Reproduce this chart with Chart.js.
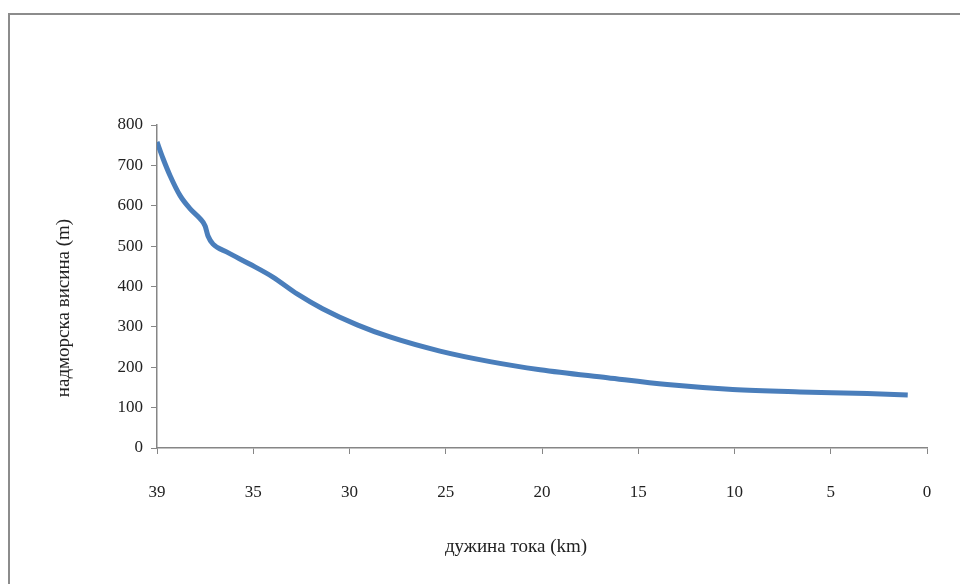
<!DOCTYPE html>
<html>
<head>
<meta charset="utf-8">
<script src="https://cdn.jsdelivr.net/npm/chart.js@4"></script>
<style>
  body { margin: 0; background: #fff; overflow: hidden; }
  #wrap { position: relative; width: 960px; height: 584px; }
  #frame {
    position: absolute; left: 8px; top: 13px; width: 970px; height: 600px;
    border-left: 2px solid #8c8c8c; border-top: 2px solid #8c8c8c;
  }
  canvas { position: absolute; left: 0; top: 0; }
</style>
</head>
<body>
<div id="wrap">
  <div id="frame"></div>
  <canvas id="chart" width="960" height="584"></canvas>
</div>
<script>
// distance along the river (km) and elevation (m)
const km = [39, 38.75, 38.46, 38.04, 37.63, 37.21, 37.0, 36.88, 36.67, 36.09, 35.13, 34.0, 32.7, 31.4, 29.6, 27.9, 25.3, 22.7, 20.1, 16.6, 13.5, 10.1, 6.6, 3.1, 1.0];
const elevation = [758, 717, 675, 625, 593, 568, 550, 525, 505, 485, 455, 424, 381, 345, 305, 275, 240, 214, 194, 174, 157, 145, 139, 135, 131];
// x labels are evenly spaced on the axis, like in the original sheet
const kmLabels = [39, 35, 30, 25, 20, 15, 10, 5, 0];
const yTicks = [0, 100, 200, 300, 400, 500, 600, 700, 800];
const xTitle = "дужина тока (km)";
const yTitle = "надморска висина (m)";

// km -> position on the label axis (0..8)
function kmToAxis(v) {
  for (let i = 0; i < kmLabels.length - 1; i++) {
    const a = kmLabels[i], b = kmLabels[i + 1];
    if (v <= a && v >= b) return i + (a - v) / (a - b);
  }
  return 0;
}

const points = km.map((k, i) => ({ x: kmToAxis(k), y: elevation[i] }));

const axisColor = "#868686";
const fontFamily = "'Liberation Serif', 'DejaVu Serif', serif";
const font = { family: fontFamily, size: 17 };

// axis titles sit a bit off-centre in the original, so draw them by hand
const axisTitles = {
  id: "axisTitles",
  afterDraw(chart) {
    const ctx = chart.ctx;
    ctx.save();
    ctx.font = "19px " + fontFamily;
    ctx.fillStyle = "#222";
    ctx.textAlign = "center";
    ctx.textBaseline = "middle";
    ctx.fillText(xTitle, 516, 547);
    ctx.translate(64, 308);
    ctx.rotate(-Math.PI / 2);
    ctx.fillText(yTitle, 0, 0);
    ctx.restore();
  }
};

new Chart(document.getElementById("chart").getContext("2d"), {
  type: "line",
  data: {
    datasets: [{
      data: points,
      borderColor: "#4a7ebb",
      borderWidth: 5,
      pointRadius: 0,
      cubicInterpolationMode: "monotone",
      fill: false
    }]
  },
  options: {
    responsive: false,
    animation: false,
    layout: { padding: { left: 0, top: 125, right: 33, bottom: 0 } },
    plugins: { legend: { display: false }, tooltip: { enabled: false } },
    scales: {
      x: {
        type: "linear",
        min: 0,
        max: kmLabels.length - 1,
        afterBuildTicks: (s) => { s.ticks = kmLabels.map((_, i) => ({ value: i })); },
        afterFit: (s) => { s.height = 584 - 448; },
        ticks: {
          callback: (v) => kmLabels[v],
          color: "#222",
          font: font,
          padding: 28,
          maxRotation: 0
        },
        grid: { drawOnChartArea: false, drawTicks: true, tickLength: 6, color: axisColor },
        border: { color: axisColor, width: 1.5 }
      },
      y: {
        min: 0,
        max: 800,
        afterBuildTicks: (s) => { s.ticks = yTicks.map((v) => ({ value: v })); },
        afterFit: (s) => { s.width = 157; },
        ticks: {
          color: "#222",
          font: font,
          padding: 8
        },
        grid: { drawOnChartArea: false, drawTicks: true, tickLength: 6, color: axisColor },
        border: { color: axisColor, width: 1.5 }
      }
    }
  },
  plugins: [axisTitles]
});
</script>
</body>
</html>
